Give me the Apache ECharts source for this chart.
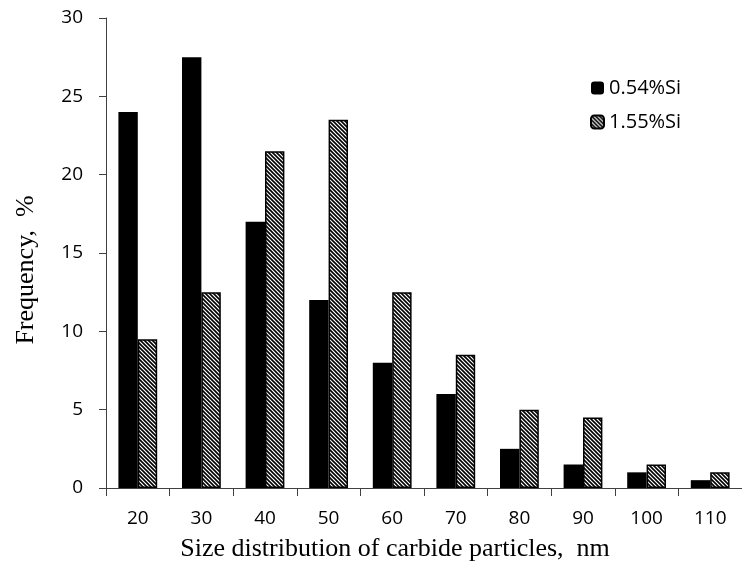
<!DOCTYPE html>
<html><head><meta charset="utf-8">
<script src="https://cdn.jsdelivr.net/npm/echarts@6/dist/echarts.min.js"></script>
<style>html,body{margin:0;padding:0;background:#fff}#c{width:742px;height:569px}</style>
</head><body><div id="c"></div>
<script>
const categories = ['20','30','40','50','60','70','80','90','100','110'];
const seriesNames = ['0.54%Si','1.55%Si'];
const si054 = [24, 27.5, 17, 12, 8, 6, 2.5, 1.5, 1, 0.5];
const si155 = [9.5, 12.5, 21.5, 23.5, 12.5, 8.5, 5, 4.5, 1.5, 1];
const xTitle = 'Size distribution of carbide particles,  nm';
const yTitle = 'Frequency,  %';

function hatch(){
  const c = document.createElement('canvas');
  c.width = 4; c.height = 4;
  const g = c.getContext('2d');
  g.fillStyle = '#fff'; g.fillRect(0,0,4,4);
  g.strokeStyle = '#000'; g.lineWidth = 1.6;
  g.beginPath();
  g.moveTo(-1,-1); g.lineTo(5,5);
  g.moveTo(-1,3); g.lineTo(1,5);
  g.moveTo(3,-1); g.lineTo(5,1);
  g.stroke();
  return c;
}
const chart = echarts.init(document.getElementById('c'));
const tickFont = {fontFamily:'Open Sans', fontSize:19, color:'#000'};
chart.setOption({
  animation:false,
  grid:{left:106, top:18, width:643, height:470},
  legend:{orient:'vertical', left:585, top:73, itemWidth:13, itemHeight:13, itemGap:14,
    textStyle:{fontFamily:'Open Sans', fontSize:20, color:'#000'}, data:seriesNames},
  graphic:[
    {type:'text', x:26, y:270, rotation:Math.PI/2,
      style:{text:yTitle, align:'center', verticalAlign:'middle',
        font:'26px "Liberation Serif"', fill:'#000'}},
    {type:'text', x:395, y:549,
      style:{text:xTitle, align:'center', verticalAlign:'middle',
        font:'26px "Liberation Serif"', fill:'#000'}}
  ],
  xAxis:{type:'category', data:categories,
    axisLine:{lineStyle:{color:'#404040', width:1}},
    axisTick:{show:true, length:8, lineStyle:{color:'#404040'}},
    axisLabel:Object.assign({margin:21}, tickFont)},
  yAxis:{type:'value', min:0, max:30, interval:5,
    splitLine:{show:false},
    axisLine:{show:true, lineStyle:{color:'#404040', width:1}},
    axisTick:{show:true, length:7, lineStyle:{color:'#404040'}},
    axisLabel:Object.assign({margin:23}, tickFont)},
  series:[
    {name:seriesNames[0], type:'bar', data:si054, barGap:'0%', barCategoryGap:'39%',
      itemStyle:{color:'#000'}},
    {name:seriesNames[1], type:'bar', data:si155, barGap:'0%', barCategoryGap:'39%',
      itemStyle:{color:{image:hatch(), repeat:'repeat'}, borderColor:'#000', borderWidth:1.5}}
  ]
});
</script></body></html>
